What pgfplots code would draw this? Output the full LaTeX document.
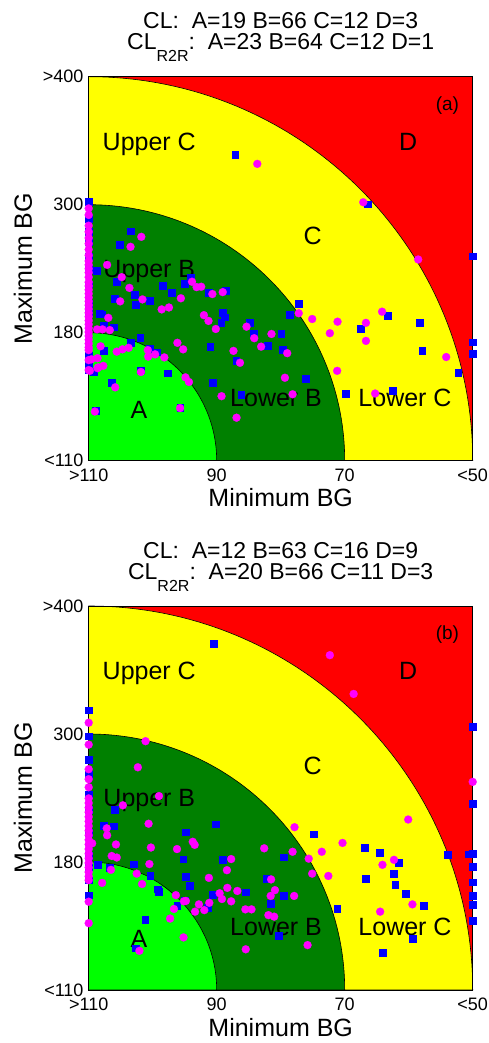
\documentclass[border=0pt]{standalone}
\usepackage{pgfplots}
\pgfplotsset{compat=1.18}
\usepackage{fontspec}
\setmainfont{Liberation Sans}
\definecolor{cred}{RGB}{255,0,0}
\definecolor{cyel}{RGB}{255,255,0}
\definecolor{cdg}{RGB}{0,128,0}
\definecolor{clg}{RGB}{0,255,0}
\definecolor{cblue}{RGB}{0,0,255}
\definecolor{cmag}{RGB}{255,0,255}
\pgfplotsset{
  cgstyle/.style={
    scale only axis, width=384pt, height=384pt,
    xmin=0, xmax=1, ymin=0, ymax=1, clip=false,
    xtick={0,0.333333,0.666667,1},
    xticklabels={>110,90,70,<50},
    ytick={0,0.333333,0.666667,1},
    yticklabels={<110,180,300,>400},
    major tick length=0pt,
    tick style={draw=none},
    ticklabel style={font=\fontsize{18}{18}\selectfont, inner sep=0pt},
    xticklabel style={anchor=north, yshift=-8pt},
    yticklabel style={anchor=east, xshift=-5pt},
    axis line style={black, line width=0.8pt},
  },
  bmark/.style={only marks, mark=square*, mark size=3.4pt, mark options={fill=cblue, draw=cblue, line width=0.2pt}},
  mmark/.style={only marks, mark=*, mark size=4pt, mark options={fill=cmag, draw=cmag, line width=0.2pt}},
}
\newcommand{\zones}{%
  \fill[cred] (axis cs:0,0) rectangle (axis cs:1,1);
  \filldraw[fill=cyel, draw=black, line width=0.6pt] (axis cs:0,0) -- (axis cs:1,0) arc[start angle=0, end angle=90, radius=384pt] -- cycle;
  \filldraw[fill=cdg, draw=black, line width=0.6pt] (axis cs:0,0) -- (axis cs:0.666667,0) arc[start angle=0, end angle=90, radius=256pt] -- cycle;
  \filldraw[fill=clg, draw=black, line width=0.6pt] (axis cs:0,0) -- (axis cs:0.333333,0) arc[start angle=0, end angle=90, radius=128pt] -- cycle;
  \draw[black, line width=0.8pt] (axis cs:0,0) rectangle (axis cs:1,1);
  \node[anchor=base west, font=\fontsize{25}{25}\selectfont, inner sep=0pt] at (axis cs:0.036,0.809) {Upper C};
  \node[anchor=base west, font=\fontsize{25}{25}\selectfont, inner sep=0pt] at (axis cs:0.038,0.478) {Upper B};
  \node[anchor=base, font=\fontsize{25}{25}\selectfont, inner sep=0pt] at (axis cs:0.131,0.110) {A};
  \node[anchor=base west, font=\fontsize{25}{25}\selectfont, inner sep=0pt] at (axis cs:0.368,0.141) {Lower B};
  \node[anchor=base west, font=\fontsize{25}{25}\selectfont, inner sep=0pt] at (axis cs:0.702,0.141) {Lower C};
  \node[anchor=base, font=\fontsize{25}{25}\selectfont, inner sep=0pt] at (axis cs:0.583,0.562) {C};
  \node[anchor=base, font=\fontsize{25}{25}\selectfont, inner sep=0pt] at (axis cs:0.832,0.809) {D};
  \node[anchor=base, font=\fontsize{25}{25}\selectfont, inner sep=0pt, rotate=90] at (axis description cs:-0.1477,0.5) {Maximum BG};
  \node[anchor=base, font=\fontsize{25}{25}\selectfont, inner sep=0pt] at (axis description cs:0.5,-0.1198) {Minimum BG};
}
\newcommand{\ttl}[2]{%
  \node[anchor=base, font=\fontsize{23}{23}\selectfont, inner sep=0pt] at (axis description cs:0.5,1.125) {CL:\ \ #1};
  \node[anchor=base, font=\fontsize{23}{23}\selectfont, inner sep=0pt] at (axis description cs:0.5,1.0703) {CL\raisebox{-12pt}{\fontsize{16}{16}\selectfont R2R}:\ \ #2};
}
\begin{document}
\begin{tikzpicture}
\path[use as bounding box] (-88.7pt,-582.3pt) rectangle (399.3pt,460.7pt);
% ---------------- panel (a)
\begin{axis}[cgstyle, at={(0pt,0pt)}, anchor=south west]
\zones
\ttl{A=19 B=66 C=12 D=3}{A=23 B=64 C=12 D=1}
\node[anchor=base, font=\fontsize{19}{19}\selectfont, inner sep=0pt] at (axis cs:0.934,0.913) {(a)};
\addplot[bmark] coordinates {
(0,0.674)(0,0.631)(0,0.596)(0,0.570)(0,0.531)(0,0.50)(0,0.46)(0,0.41)(0,0.385)(0,0.275)(0,0.254)(0,0.236)
(0.021,0.495)(0.029,0.384)
(0.381,0.798)(0.726,0.668)(1.0,0.533)
(0.110,0.598)(0.080,0.562)
(0.266,0.478)(0.073,0.466)(0.119,0.432)(0.193,0.456)(0.216,0.438)(0.249,0.462)(0.312,0.437)(0.356,0.444)
(0.158,0.416)(0.123,0.406)(0.068,0.423)(0.035,0.382)(0.039,0.353)(0.064,0.348)(0.348,0.385)(0.353,0.374)
(0.345,0.359)(0.418,0.359)(0.429,0.332)(0.466,0.300)(0.110,0.307)(0.134,0.320)(0.038,0.286)(0.158,0.292)
(0.177,0.283)(0.316,0.297)(0.384,0.260)(0.012,0.232)(0.135,0.236)(0.205,0.228)(0.060,0.203)(0.322,0.203)
(0.397,0.172)(0.019,0.130)(0.238,0.139)
(0.546,0.409)(0.523,0.380)(0.708,0.343)(0.779,0.378)(0.861,0.359)(0.868,0.286)(0.962,0.230)(1.0,0.309)
(1.0,0.279)(0.668,0.174)(0.792,0.182)(0.501,0.330)(0.504,0.290)(0.564,0.214)
};
\addplot[mmark] coordinates {
(0,0.657)(0,0.640)(0,0.612)(0,0.596)(0,0.580)(0,0.565)(0,0.550)(0,0.535)(0,0.520)(0,0.510)(0,0.500)
(0,0.490)(0,0.478)(0,0.465)(0,0.455)(0,0.445)(0,0.435)(0,0.425)(0,0.415)(0,0.405)(0,0.395)(0,0.385)
(0,0.375)(0,0.365)(0,0.355)(0,0.345)(0,0.335)(0,0.325)(0,0.315)(0,0.305)(0,0.295)(0,0.288)(0,0.262)(0,0.236)
(0.439,0.773)(0.137,0.583)(0.109,0.557)(0.048,0.510)(0.086,0.478)(0.715,0.673)(0.858,0.524)
(0.106,0.450)(0.269,0.466)(0.281,0.452)(0.293,0.453)(0.322,0.434)(0.349,0.439)(0.140,0.420)(0.082,0.415)
(0.240,0.423)(0.190,0.394)(0.209,0.399)(0.051,0.372)(0.022,0.342)(0.036,0.342)(0.055,0.340)(0.300,0.379)
(0.312,0.364)(0.331,0.343)(0.411,0.349)(0.431,0.319)(0.476,0.330)(0.449,0.297)(0.031,0.298)(0.073,0.284)
(0.088,0.290)(0.104,0.294)(0.154,0.288)(0.155,0.271)(0.173,0.277)(0.197,0.269)(0.231,0.307)(0.246,0.290)
(0.377,0.286)(0.394,0.255)(0.007,0.264)(0.003,0.234)(0.025,0.243)(0.038,0.247)(0.136,0.231)(0.252,0.217)
(0.261,0.205)(0.069,0.191)(0.346,0.168)(0.385,0.112)(0.016,0.128)(0.238,0.137)(0.023,0.267)(0.023,0.241)
(0.547,0.384)(0.582,0.369)(0.648,0.362)(0.628,0.332)(0.722,0.359)(0.722,0.312)(0.764,0.388)(0.931,0.270)
(0.647,0.234)(0.746,0.175)(0.517,0.280)(0.511,0.216)(0.531,0.173)
};
\end{axis}
% ---------------- panel (b)
\begin{axis}[cgstyle, at={(0pt,-529.3pt)}, anchor=south west]
\zones
\ttl{A=12 B=63 C=16 D=9}{A=20 B=66 C=11 D=3}
\node[anchor=base, font=\fontsize{19}{19}\selectfont, inner sep=0pt] at (axis cs:0.934,0.914) {(b)};
\addplot[bmark] coordinates {
(0,0.729)(0,0.661)(0,0.599)(0,0.560)(0,0.508)(0,0.470)(0,0.409)(0,0.350)(0,0.320)(0,0.286)(0,0.247)
(0.326,0.902)(1.0,0.686)(0.068,0.469)(0.038,0.429)(0.064,0.427)(0.331,0.432)(0.252,0.411)(0.246,0.341)
(0.349,0.340)(0.116,0.328)(0.023,0.326)(0.054,0.319)(0.160,0.297)(0.252,0.296)(0.464,0.290)(0.263,0.272)
(0.179,0.263)(0.183,0.256)(0.408,0.255)(0.322,0.249)(0.250,0.234)(0.474,0.226)(0.230,0.219)(0.309,0.214)
(0.147,0.184)(0.494,0.142)(0.122,0.109)
(1.0,0.486)(0.586,0.406)(0.718,0.371)(0.758,0.358)(0.808,0.332)(0.934,0.352)(0.989,0.354)(1.0,0.356)
(0.507,0.346)(1.0,0.322)(0.722,0.290)(0.793,0.303)(0.798,0.275)(1.0,0.281)(0.826,0.252)(1.0,0.245)
(1.0,0.223)(0.873,0.219)(0.647,0.213)(1.0,0.180)(0.843,0.133)(0.765,0.098)(0.507,0.245)
};
\addplot[mmark] coordinates {
(0,0.696)(0,0.639)(0,0.575)(0,0.549)(0,0.528)(0,0.499)(0,0.487)(0,0.475)(0,0.463)(0,0.451)(0,0.439)
(0,0.427)(0,0.415)(0,0.403)(0,0.391)(0,0.379)(0,0.367)(0,0.355)(0,0.343)(0,0.331)(0,0.319)(0,0.307)
(0,0.296)(0,0.286)(0,0.230)(0,0.174)
(0.148,0.648)(0.128,0.580)(0.183,0.505)(0.628,0.872)(0.690,0.771)(1.0,0.542)
(0.089,0.481)(0.047,0.421)(0.048,0.403)(0.156,0.433)(0.271,0.386)(0.276,0.378)(0.071,0.379)(0.162,0.371)
(0.230,0.367)(0.457,0.369)(0.009,0.382)(0.371,0.341)(0.060,0.349)(0.073,0.345)(0.058,0.313)(0.158,0.328)
(0.125,0.303)(0.360,0.312)(0.313,0.292)(0.475,0.288)(0.035,0.279)(0.139,0.276)(0.361,0.266)(0.387,0.258)
(0.485,0.260)(0.227,0.247)(0.341,0.252)(0.347,0.237)(0.474,0.245)(0.253,0.232)(0.248,0.231)(0.371,0.231)
(0.287,0.223)(0.222,0.211)(0.314,0.227)(0.301,0.208)(0.277,0.204)(0.408,0.210)(0.424,0.210)(0.468,0.195)
(0.483,0.191)(0.212,0.186)(0.247,0.137)(0.132,0.102)(0.409,0.106)
(0.832,0.444)(0.536,0.424)(0.661,0.383)(0.607,0.360)(0.531,0.360)(0.765,0.326)(0.795,0.339)(0.573,0.342)
(0.582,0.303)(0.624,0.297)(0.843,0.223)(0.759,0.204)(0.535,0.245)(0.570,0.117)
};
\end{axis}
\end{tikzpicture}
\end{document}
